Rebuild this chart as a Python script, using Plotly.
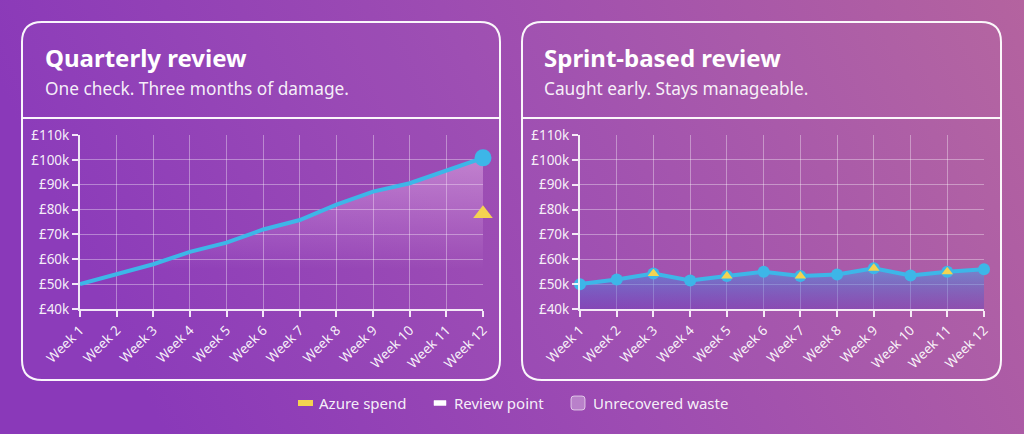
import base64
import plotly.graph_objects as go

# ---------------- data ----------------
weeks = ["Week 1", "Week 2", "Week 3", "Week 4", "Week 5", "Week 6",
         "Week 7", "Week 8", "Week 9", "Week 10", "Week 11", "Week 12"]
quarterly_spend = [50, 53.9, 58, 63, 66.7, 72, 75.8, 82, 87.2, 90.6, 95.9, 100.8]  # £k
quarterly_review_week = ["Week 12"]
quarterly_review_value = [78.3]
sprint_spend = [50, 51.9, 54.3, 51.5, 53.3, 55, 53.3, 53.9, 56.4, 53.5, 55, 56]  # £k
sprint_review_weeks = ["Week 3", "Week 5", "Week 7", "Week 9", "Week 11"]
sprint_review_values = [54.3, 53.3, 53.3, 56.4, 55]
y_tickvals = [40, 50, 60, 70, 80, 90, 100, 110]
y_ticktext = ["£40k", "£50k", "£60k", "£70k", "£80k", "£90k", "£100k", "£110k"]

titles = ["Quarterly review", "Sprint-based review"]
subtitles = ["One check. Three months of damage.", "Caught early. Stays manageable."]
legend_labels = ["Azure spend", "Review point", "Unrecovered waste"]

# ---------------- styling ----------------
W, H = 1024, 434
FONT = "Noto Sans"
BLUE = "#3db6e8"
YELLOW = "#f4d350"
GRID = "rgba(255,255,255,0.36)"

def X(px):
    return px / W

def Y(py):
    return 1 - py / H

svg = f'''<svg xmlns="http://www.w3.org/2000/svg" width="{W}" height="{H}" viewBox="0 0 {W} {H}" preserveAspectRatio="none">
<defs><linearGradient id="g" x1="0" y1="0.2" x2="1" y2="0">
<stop offset="0" stop-color="#8a39b9"/>
<stop offset="0.45" stop-color="#9d4cb2"/>
<stop offset="1" stop-color="#b4639f"/>
</linearGradient></defs>
<rect width="{W}" height="{H}" fill="url(#g)"/></svg>'''
bg_src = "data:image/svg+xml;base64," + base64.b64encode(svg.encode()).decode()

fig = go.Figure()

# ---- left panel traces (xaxis / yaxis) ----
fig.add_trace(go.Scatter(
    x=weeks, y=quarterly_spend, mode="lines", fill="tozeroy",
    fillgradient=dict(type="vertical", start=56, stop=101,
                      colorscale=[[0, "rgba(255,210,255,0)"], [1, "rgba(255,215,250,0.38)"]]),
    line=dict(color=BLUE, width=4), xaxis="x", yaxis="y", hoverinfo="skip",
    showlegend=False))
fig.add_trace(go.Scatter(
    x=weeks[-1:], y=quarterly_spend[-1:], mode="markers",
    marker=dict(color=BLUE, size=17), xaxis="x", yaxis="y", cliponaxis=False,
    showlegend=False))
fig.add_trace(go.Scatter(
    x=quarterly_review_week, y=quarterly_review_value, mode="markers",
    marker=dict(color=YELLOW, size=17, symbol="triangle-up"), xaxis="x", yaxis="y",
    cliponaxis=False, showlegend=False))

# ---- right panel traces (xaxis2 / yaxis2) ----
fig.add_trace(go.Scatter(
    x=weeks, y=sprint_spend, mode="lines+markers", fill="tozeroy",
    fillgradient=dict(type="vertical", start=40, stop=56,
                      colorscale=[[0, "rgba(85,55,190,0.35)"], [1, "rgba(70,165,235,0.55)"]]),
    line=dict(color=BLUE, width=4), marker=dict(color=BLUE, size=12),
    xaxis="x2", yaxis="y2", cliponaxis=False, showlegend=False))
fig.add_trace(go.Scatter(
    x=sprint_review_weeks, y=sprint_review_values, mode="markers",
    marker=dict(color=YELLOW, size=10, symbol="triangle-up"),
    xaxis="x2", yaxis="y2", cliponaxis=False, showlegend=False))

axis_common = dict(
    showgrid=True, gridcolor=GRID, gridwidth=1.4, zeroline=False, automargin=False,
    showline=True, linecolor="rgba(255,255,255,0.88)", linewidth=2,
    ticks="outside", tickcolor="rgba(255,255,255,0.88)", ticklen=6, tickwidth=1.5,
    tickfont=dict(family=FONT, size=13.5, color="rgba(255,255,255,0.93)"),
)
xcommon = dict(axis_common, type="category", range=[0, 11], tickangle=-45,
               tickfont=dict(family=FONT, size=13.5, color="rgba(255,255,255,0.93)"))
ycommon = dict(axis_common, range=[40, 110], tickvals=y_tickvals, ticktext=y_ticktext)

ydom = [Y(309), Y(135)]
fig.update_layout(
    width=W, height=H,
    margin=dict(l=0, r=0, t=0, b=0, pad=0, autoexpand=False),
    paper_bgcolor="#9c4cb0", plot_bgcolor="rgba(0,0,0,0)",
    showlegend=False,
    xaxis=dict(xcommon, domain=[X(80), X(483)], anchor="y"),
    yaxis=dict(ycommon, domain=ydom, anchor="x"),
    xaxis2=dict(xcommon, domain=[X(580), X(984)], anchor="y2"),
    yaxis2=dict(ycommon, domain=ydom, anchor="x2"),
    images=[dict(source=bg_src, xref="paper", yref="paper", x=0, y=1,
                 sizex=1, sizey=1, sizing="stretch", layer="below",
                 xanchor="left", yanchor="top")],
)

# ---- cards ----
def rounded_path(x0, y0, x1, y1, r):
    rx, ry = r / W, r / H
    a0, b0, a1, b1 = X(x0), Y(y0), X(x1), Y(y1)  # b0 top (higher), b1 bottom
    return (f"M {a0+rx},{b0} L {a1-rx},{b0} Q {a1},{b0} {a1},{b0-ry} "
            f"L {a1},{b1+ry} Q {a1},{b1} {a1-rx},{b1} L {a0+rx},{b1} "
            f"Q {a0},{b1} {a0},{b1+ry} L {a0},{b0-ry} Q {a0},{b0} {a0+rx},{b0} Z")

shapes = []
cards = [(22, 500), (522, 1001)]
for (cx0, cx1) in cards:
    shapes.append(dict(type="path", xref="paper", yref="paper",
                       path=rounded_path(cx0, 22, cx1, 380, 20),
                       line=dict(color="rgba(255,255,255,0.95)", width=2),
                       fillcolor="rgba(255,255,255,0.02)", layer="below"))
    shapes.append(dict(type="line", xref="paper", yref="paper",
                       x0=X(cx0), x1=X(cx1), y0=Y(118), y1=Y(118),
                       line=dict(color="rgba(255,255,255,0.95)", width=2)))

# ---- legend swatches ----
shapes.append(dict(type="rect", xref="paper", yref="paper",
                   x0=X(298), x1=X(313), y0=Y(406), y1=Y(400),
                   fillcolor=YELLOW, line=dict(width=0)))
shapes.append(dict(type="rect", xref="paper", yref="paper",
                   x0=X(434), x1=X(446), y0=Y(405.5), y1=Y(400.5),
                   fillcolor="white", line=dict(color="white", width=0.5)))
shapes.append(dict(type="path", xref="paper", yref="paper",
                   path=rounded_path(571, 396, 585, 410, 3),
                   fillcolor="rgba(255,255,255,0.3)",
                   line=dict(color="rgba(255,255,255,0.6)", width=1)))
fig.update_layout(shapes=shapes)

# ---- text ----
annotations = []
for i, (tx) in enumerate([42.5, 541.5]):
    annotations.append(dict(xref="paper", yref="paper", x=X(tx), y=Y(57),
                            xanchor="left", yanchor="middle", showarrow=False,
                            text=f"<b>{titles[i]}</b>",
                            font=dict(family=FONT, size=24, color="white")))
    annotations.append(dict(xref="paper", yref="paper", x=X(tx), y=Y(88),
                            xanchor="left", yanchor="middle", showarrow=False,
                            text=subtitles[i],
                            font=dict(family=FONT, size=17.3, color="rgba(255,255,255,0.93)")))
for lx, lab in zip([316.5, 451.5, 590.5], legend_labels):
    annotations.append(dict(xref="paper", yref="paper", x=X(lx), y=Y(403),
                            xanchor="left", yanchor="middle", showarrow=False,
                            text=lab,
                            font=dict(family=FONT, size=15, color="rgba(255,255,255,0.93)")))
fig.update_layout(annotations=annotations)

fig.write_html("out.html")
